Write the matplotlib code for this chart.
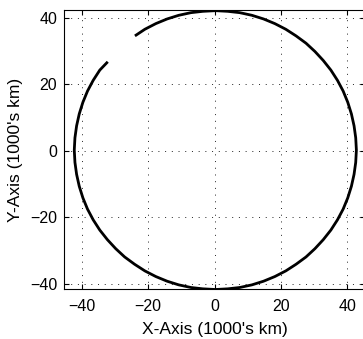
import matplotlib
matplotlib.use("Agg")
import matplotlib.pyplot as plt

# Orbit points (1000's km), counter-clockwise
x_vals = [-32.2, -34.6, -36.6, -38.3, -39.7, -40.8, -41.6, -42.1, -42.3,
          -42.1, -41.6, -40.8, -39.7, -38.3, -36.6, -34.6, -32.3, -29.8,
          -27.1, -24.1, -21.0, -17.7, -14.3, -10.8, -7.1, -3.5, 0.3,
          4.0, 7.6, 11.3, 14.8, 18.2, 21.5, 24.6, 27.6, 30.3,
          32.8, 35.1, 37.1, 38.8, 40.2, 41.3, 42.1, 42.6, 42.8,
          42.6, 42.1, 41.3, 40.2, 38.8, 37.1, 35.1, 32.8, 30.3,
          27.6, 24.6, 21.5, 18.2, 14.8, 11.3, 7.6, 4.0, 0.3,
          -3.5, -7.1, -10.8, -14.3, -17.7, -21.0, -24.0]
y_vals = [26.8, 24.3, 21.2, 18.0, 14.6, 11.1, 7.5, 3.9, 0.2,
          -3.5, -7.1, -10.7, -14.2, -17.6, -20.8, -23.9, -26.8, -29.5,
          -32.0, -34.2, -36.2, -37.9, -39.3, -40.4, -41.2, -41.6, -41.8,
          -41.6, -41.2, -40.4, -39.3, -37.9, -36.2, -34.2, -32.0, -29.5,
          -26.8, -23.9, -20.8, -17.6, -14.2, -10.7, -7.1, -3.5, 0.2,
          3.9, 7.5, 11.1, 14.6, 18.0, 21.2, 24.3, 27.2, 29.9,
          32.4, 34.6, 36.6, 38.3, 39.7, 40.8, 41.6, 42.0, 42.2,
          42.0, 41.6, 40.8, 39.7, 38.3, 36.6, 34.6]
ticks = [-40, -20, 0, 20, 40]

plt.rcParams['font.family'] = ['Liberation Sans', 'DejaVu Sans']

fig = plt.figure(figsize=(3.63, 3.39), dpi=100)
ax = fig.add_axes([64/363, 50/339, 301/363, 279/339])
ax.plot(x_vals, y_vals, color='black', lw=2.0, solid_capstyle='butt')
ax.set_xlim(-45.4, 45.4)
ax.set_ylim(-41.65, 42.4)
ax.set_xticks(ticks)
ax.set_yticks(ticks)
ax.grid(True, color='#222222', linestyle=(0, (1, 5.9)), lw=0.7)
ax.tick_params(direction='in', length=3.5, width=0.8, top=True, right=True,
               labelsize=11.5, colors='black')
ax.tick_params(axis='x', pad=7.0)
ax.tick_params(axis='y', pad=5.0)
for s in ax.spines.values():
    s.set_linewidth(0.8)
ax.set_xlabel("X-Axis (1000's km)", fontsize=12.5, labelpad=6)
ax.set_ylabel("Y-Axis (1000's km)", fontsize=12.5, labelpad=5)
fig.savefig("out.png", dpi=100)
